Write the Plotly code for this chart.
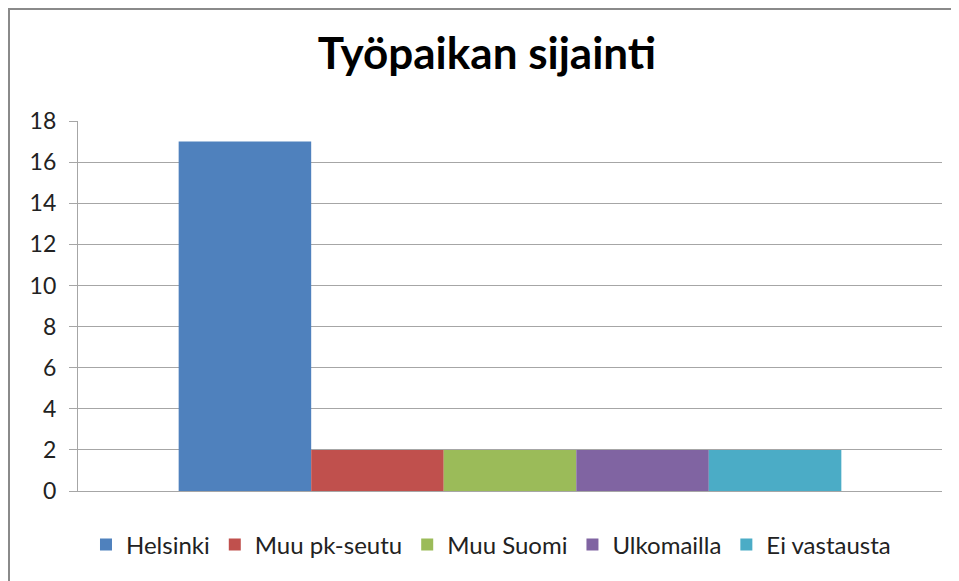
import plotly.graph_objects as go

series_names = ["Helsinki", "Muu pk-seutu", "Muu Suomi", "Ulkomailla", "Ei vastausta"]
series_values = [17, 2, 2, 2, 2]
series_colors = ["#4F81BD", "#C0504D", "#9BBB59", "#8064A2", "#4BACC6"]
category = [""]
y_ticks = [0, 2, 4, 6, 8, 10, 12, 14, 16, 18]

fig = go.Figure()
for name, val, col in zip(series_names, series_values, series_colors):
    fig.add_trace(go.Bar(x=category, y=[val], name=name, marker=dict(color=col, line=dict(width=0))))

font_family = "Lato, 'Open Sans', sans-serif"
# page body has an 8px margin, so the figure is shifted; margins compensate
fig.update_layout(
    width=959, height=581,
    margin=dict(l=70, r=25, t=113, b=98, autoexpand=False),
    paper_bgcolor="white", plot_bgcolor="white",
    barmode="group", bargap=0.233, bargroupgap=0,
    title=dict(text="<b>Työpaikan sijainti</b>", x=(487 - 8) / 959, xanchor="center",
               y=1 - 46 / 581, yanchor="middle",
               font=dict(family=font_family, size=44, color="black")),
    font=dict(family=font_family, size=24, color="#222222"),
    legend=dict(orientation="h", x=0.478, xanchor="center",
                y=-0.146, yanchor="middle",
                font=dict(size=24, color="#222222"), traceorder="normal"),
    showlegend=True,
)
fig.update_yaxes(range=[0, 18], tickvals=y_ticks, showgrid=True, gridcolor="#A6A6A6", gridwidth=1.3,
                 showline=True, linecolor="#A6A6A6", linewidth=1.3, ticks="outside", ticklen=8,
                 tickcolor="#A6A6A6", zeroline=False, ticklabelstandoff=8,
                 tickfont=dict(size=23, color="#222222"))
fig.update_xaxes(showline=True, linecolor="#A6A6A6", linewidth=1.3, showticklabels=False, ticks="")
fig.add_shape(type="rect", xref="paper", yref="paper", x0=-69 / 864, x1=1.1, y0=-0.4, y1=482 / 370,
              line=dict(color="#8A8A8A", width=2), fillcolor="rgba(0,0,0,0)", layer="above")
fig.write_html("out.html")
